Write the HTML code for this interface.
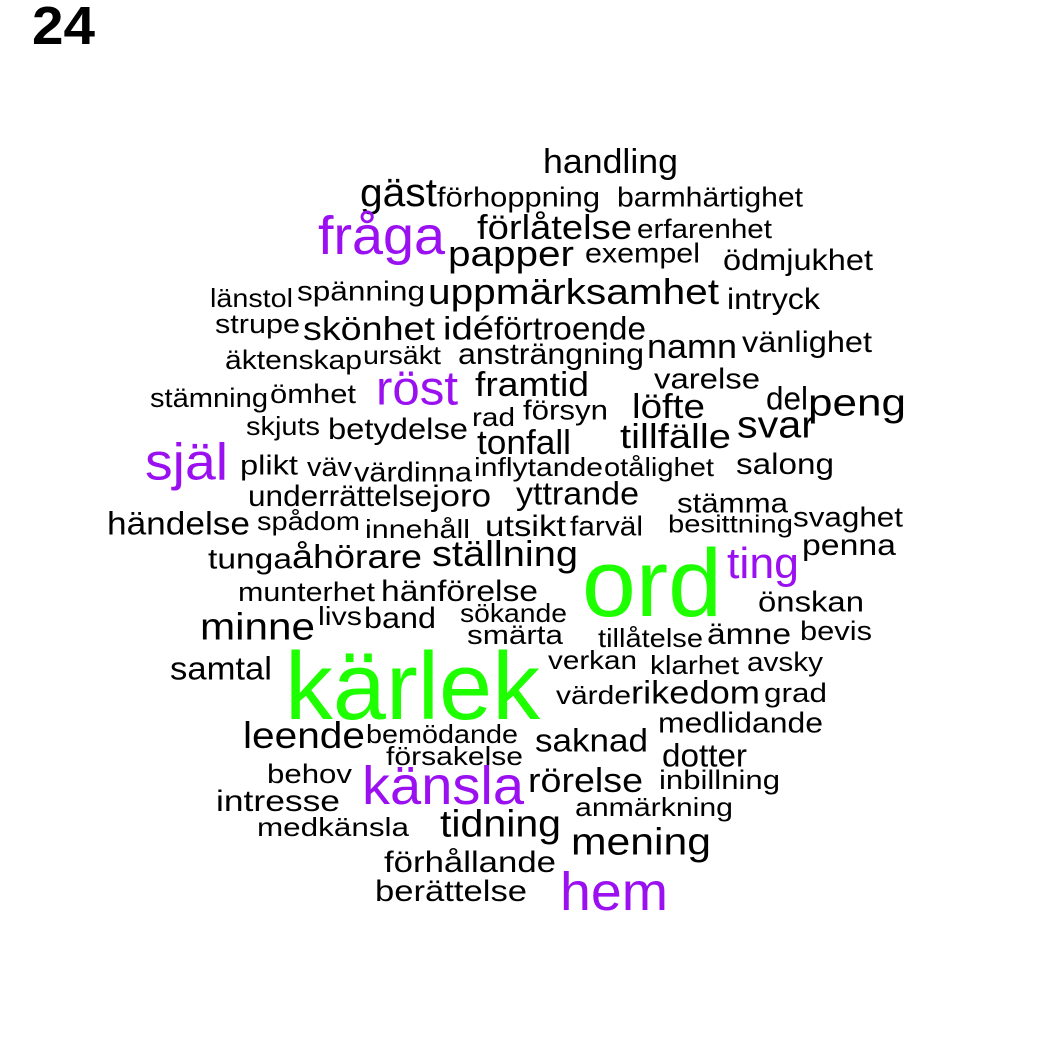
<!DOCTYPE html>
<html>
<head>
<meta charset="utf-8">
<style>
html,body{margin:0;padding:0;background:#fff;}
svg{display:block;}
text{font-family:"Liberation Sans",Arial,sans-serif;}
</style>
</head>
<body>
<svg id="cloud" width="1050" height="1050" viewBox="0 0 1050 1050">
<text x="32" y="44" font-size="54" font-weight="bold" fill="#000" textLength="63" lengthAdjust="spacingAndGlyphs">24</text>
<g id="words"></g>
</svg>
<script>
const words = ["handling","gäst","förhoppning","barmhärtighet","förlåtelse","erfarenhet","fråga","papper","exempel","ödmjukhet","länstol","spänning","uppmärksamhet","intryck","strupe","skönhet","idé","förtroende","namn","vänlighet","äktenskap","ursäkt","ansträngning","röst","framtid","varelse","del","peng","stämning","ömhet","rad","försyn","löfte","svar","skjuts","betydelse","tonfall","tillfälle","själ","plikt","väv","värdinna","inflytande","otålighet","salong","underrättelse","jo","ro","yttrande","stämma","händelse","spådom","innehåll","utsikt","farväl","besittning","svaghet","tunga","åhörare","ställning","ord","ting","penna","munterhet","hänförelse","önskan","livs","band","sökande","minne","smärta","tillåtelse","ämne","bevis","samtal","kärlek","verkan","klarhet","avsky","värde","rikedom","grad","medlidande","leende","bemödande","saknad","försakelse","dotter","behov","känsla","rörelse","inbillning","intresse","anmärkning","medkänsla","tidning","mening","förhållande","hem","berättelse"];
const freqClass = [1,1,0,0,1,0,2,1,0,0,0,0,1,0,0,1,0,0,1,0,0,0,0,2,1,0,1,1,0,0,0,0,1,1,0,0,1,1,2,0,0,0,0,0,0,0,0,1,1,0,1,0,0,0,0,0,0,0,1,1,3,2,0,0,0,0,0,0,0,1,0,0,0,0,1,3,0,0,0,0,1,0,0,1,0,1,0,1,0,2,1,0,0,0,0,1,1,0,2,0];
const fontSizes = [34,40,28,28,34,27,54,36,28,30,26,28,36,30,27,33,32,32,34,30,27,26,30,48,34,29,32,38,27,27,26,28,34,38,26,30,34,34,52,28,27,28,26,26,30,30,30,32,32,28,32,26,26,30,28,25,28,29,33,36,96,44,30,27,30,29,26,30,26,38,27,26,30,27,32,96,26,26,27,26,32,27,29,37,26,32,26,32,27,54,34,27,30,26,26,38,38,30,54,30];
// layout: [left, right, centerY]
const layout = [[543,678,161],[360,437,192],[437,600,196],[617,803,196],[477,632,227],[637,772,228],[318,445,236],[448,574,253],[585,700,252],[723,873,259],[210,293,297],[297,425,290],[428,719,291],[727,820,298],[215,300,323],[303,435,328],[443,494,328],[494,646,328],[647,737,346],[742,872,341],[225,362,359],[363,441,354],[458,644,353],[376,458,388],[475,589,384],[654,760,378],[766,808,398],[808,906,402],[150,268,397],[270,356,393],[472,515,416],[523,608,409],[632,705,406],[737,815,424],[246,320,425],[328,468,428],[477,571,442],[620,731,436],[145,228,462],[240,298,464],[307,352,466],[354,472,471],[474,603,466],[604,714,466],[736,834,463],[248,432,495],[432,460,495],[460,491,495],[516,639,493],[677,788,502],[107,250,523],[257,360,520],[365,470,528],[485,566,525],[570,643,525],[668,793,523],[793,903,516],[208,292,558],[292,422,556],[432,578,553],[582,722,585],[727,799,563],[802,896,544],[238,375,591],[381,538,590],[758,864,601],[318,362,615],[364,436,617],[460,567,612],[200,315,626],[467,563,634],[598,703,637],[707,791,633],[800,872,630],[170,272,668],[285,540,688],[548,637,659],[650,739,664],[747,823,661],[556,631,694],[631,760,692],[764,827,692],[658,823,722],[243,365,735],[366,518,733],[535,648,740],[386,523,755],[662,747,755],[267,352,773],[362,524,786],[528,643,780],[659,780,779],[216,340,800],[575,733,806],[257,409,826],[440,561,823],[571,711,841],[384,556,861],[560,668,892],[375,527,890]];
const palette = ["#000000","#000000","#9a10f0","#1eff00"];
const g = document.getElementById('words');
const NS = "http://www.w3.org/2000/svg";
for (let i = 0; i < words.length; i++) {
  const [l, r, cy] = layout[i];
  const t = document.createElementNS(NS, 'text');
  
  
  t.setAttribute('x', l);
  t.setAttribute('y', cy + 2 + fontSizes[i] * 0.3);
  t.setAttribute('font-size', fontSizes[i]);
  t.setAttribute('fill', palette[freqClass[i]]);
  t.setAttribute('textLength', r - l);
  t.setAttribute('lengthAdjust', 'spacingAndGlyphs');
  t.textContent = words[i];
  g.appendChild(t);
}
</script>
</body>
</html>
